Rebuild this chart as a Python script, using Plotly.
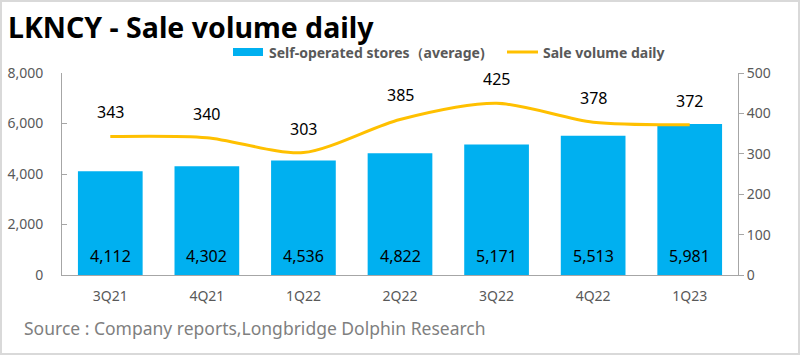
import plotly.graph_objects as go

categories = ["3Q21", "4Q21", "1Q22", "2Q22", "3Q22", "4Q22", "1Q23"]
stores_avg = [4112, 4302, 4536, 4822, 5171, 5513, 5981]
sale_volume_daily = [343, 340, 303, 385, 425, 378, 372]
left_ticks = [0, 2000, 4000, 6000, 8000]
right_ticks = [0, 100, 200, 300, 400, 500]
bar_name = "Self-operated stores（average)"
line_name = "Sale volume daily"
title_text = "LKNCY - Sale volume daily"
source_text = "Source : Company reports,Longbridge Dolphin Research"

FONT = "Noto Sans"
GRAY = "#595959"
AXIS = "#a6a6a6"
BLUE = "#00B0F0"
GOLD = "#FFC000"

L, R, T, B = 62, 738, 73, 275
W, H = 800, 355


def px(p):
    return (p - L) / (R - L)


def py(p):
    return (B - p) / (B - T)


fig = go.Figure()
fig.add_trace(go.Bar(
    x=categories, y=stores_avg, name=bar_name,
    marker=dict(color=BLUE, line=dict(width=0)), yaxis="y", showlegend=False,
))
fig.add_trace(go.Scatter(
    x=categories, y=sale_volume_daily, name=line_name,
    mode="lines", line=dict(color=GOLD, width=3, shape="spline", smoothing=0.8),
    yaxis="y2", showlegend=False,
))

annotations = []
for c, v in zip(categories, stores_avg):
    annotations.append(dict(x=c, y=0, xref="x", yref="y", text=f"{v:,}", showarrow=False,
                            yanchor="bottom", yshift=6, font=dict(family=FONT, size=16, color="#000000")))
for c, v in zip(categories, sale_volume_daily):
    annotations.append(dict(x=c, y=v, xref="x", yref="y2", text=str(v), showarrow=False,
                            yanchor="middle", yshift=24, font=dict(family=FONT, size=16, color="#000000")))

# title
annotations.append(dict(x=px(6), y=py(27), xref="paper", yref="paper", text=f"<b>{title_text}</b>",
                        showarrow=False, xanchor="left", yanchor="middle",
                        font=dict(family=FONT, size=28.5, color="#000000")))
# legend (drawn manually to match wide swatches)
annotations.append(dict(x=px(267), y=py(53), xref="paper", yref="paper", text=f"<b>{bar_name}</b>",
                        showarrow=False, xanchor="left", yanchor="middle",
                        font=dict(family=FONT, size=14, color=GRAY)))
annotations.append(dict(x=px(541), y=py(53), xref="paper", yref="paper", text=f"<b>{line_name}</b>",
                        showarrow=False, xanchor="left", yanchor="middle",
                        font=dict(family=FONT, size=14, color=GRAY)))
# source
annotations.append(dict(x=px(22), y=py(328), xref="paper", yref="paper", text=source_text,
                        showarrow=False, xanchor="left", yanchor="middle",
                        font=dict(family=FONT, size=17.5, color="#7f7f7f")))

shapes = [
    dict(type="rect", xref="paper", yref="paper", x0=px(233), x1=px(263), y0=py(56), y1=py(48),
         fillcolor=BLUE, line=dict(width=0)),
    dict(type="line", xref="paper", yref="paper", x0=px(507), x1=px(538), y0=py(52), y1=py(52),
         line=dict(color=GOLD, width=3)),
    dict(type="rect", xref="paper", yref="paper", x0=px(1), x1=px(799), y0=py(354), y1=py(1),
         line=dict(color="#d9d9d9", width=2)),
]

fig.update_layout(
    width=W, height=H,
    margin=dict(l=L, r=W - R, t=T, b=H - B, autoexpand=False),
    paper_bgcolor="white", plot_bgcolor="white",
    font=dict(family=FONT, color=GRAY, size=14),
    bargap=0.33,
    showlegend=False,
    xaxis=dict(type="category", showgrid=False, showline=True, linecolor=AXIS, linewidth=1,
               ticks="", tickfont=dict(size=14, color=GRAY), zeroline=False, automargin=False,
               ticklabelstandoff=8),
    yaxis=dict(range=[0, 8000], tickvals=left_ticks, tickformat=",", showgrid=False,
               showline=True, linecolor=AXIS, linewidth=1, ticks="inside", ticklen=5,
               tickcolor=AXIS, tickfont=dict(size=14, color=GRAY), zeroline=False,
               ticklabelstandoff=15, automargin=False),
    yaxis2=dict(range=[0, 500], tickvals=right_ticks, overlaying="y", side="right", showgrid=False,
                showline=True, linecolor=AXIS, linewidth=1, ticks="outside", ticklen=5,
                tickcolor=AXIS, tickfont=dict(size=14, color=GRAY), zeroline=False, automargin=False),
    annotations=annotations,
    shapes=shapes,
)

fig.write_html("out.html", config={"displayModeBar": False},
               post_script="document.body.style.margin='0';")
